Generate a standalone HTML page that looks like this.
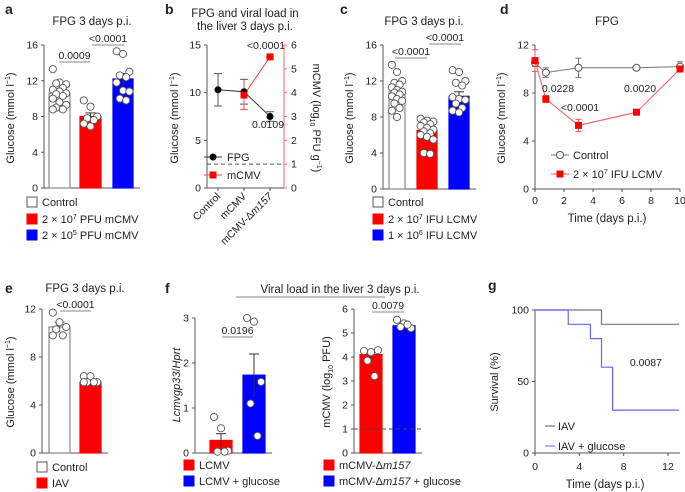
<!DOCTYPE html>
<html><head><meta charset="utf-8"><style>
body{margin:0;background:#fff}
svg{display:block;font-family:"Liberation Sans",sans-serif}
text{fill:#222}
</style></head><body>
<svg id="fig" width="685" height="492" viewBox="0 0 685 492"></svg>
<script>
// ---- data ----
const aCats=["Control","2e7 PFU mCMV","2e5 PFU mCMV"];
const aMeans=[10.6,8.0,12.2];
const aSem=[0.35,0.4,0.6];
const aPts=[[13.3,11.8,11.6,11.7,11.2,11.0,10.8,10.6,10.5,10.3,10.0,9.6,9.3,9.0,8.8,8.8],[9.8,9.1,8.0,7.8,7.6,7.2,6.9],[15.3,15.0,13.0,12.6,12.4,11.8,10.9,10.8,10.0,9.8]];
const cMeans=[10.8,6.5,10.3];
const cSem=[0.35,0.3,0.5];
const cPts=[[13.8,13.0,12.0,11.8,11.6,11.3,11.0,10.8,10.7,10.5,10.3,10.0,9.8,9.5,9.0,8.7,8.0],[7.8,7.6,7.5,7.4,7.2,7.0,6.8,6.6,6.4,6.2,6.0,5.8,5.5,4.0,3.9],[13.2,13.0,12.0,11.8,11.5,10.2,10.0,9.9,9.5,9.0,8.7,8.5]];
const bCats=["Control","mCMV","mCMV-Δm157"];
const bFpg=[10.3,10.1,7.5];
const bFpgErr=[1.7,1.3,0.5];
const bCmv=[null,3.9,5.5];
const bCmvErr=[null,0.6,0];
const dTimes=[0,0.75,3,7,10];
const dCtrl=[10.5,9.7,10.1,10.1,10.2];
const dCtrlErr=[0.3,0.4,0.8,0.1,0.4];
const dLcmv=[10.7,7.5,5.3,6.4,10.0];
const dLcmvErr=[0.9,0.3,0.5,0.1,0.2];
const eMeans=[10.5,5.9];
const eSem=[0.4,0.2];
const ePts=[[11.7,10.9,10.5,10.3,9.8,9.8],[6.4,6.4,5.9,5.9,5.9,5.9]];
const fLMeans=[0.28,1.73];
const fLSem=[0.15,0.47];
const fLPts=[[0.8,0.55,0.05,0.03,0.03],[3.0,2.92,1.58,1.1,0.38]];
const fRMeans=[4.1,5.3];
const fRSem=[0.15,0.08];
const fRPts=[[4.25,4.2,4.28,3.85,3.2],[5.55,5.4,5.2,5.25,5.35]];
const gTimes=[0,3,5,6,7,13];
const gIav=[100,100,100,90,90,90];
const gGlu=[100,90,80,60,30,30];

const NS="http://www.w3.org/2000/svg";const svg=document.getElementById('fig');
function el(tag,at,txt,parent){const e=document.createElementNS(NS,tag);for(const k in at)e.setAttribute(k,at[k]);if(txt!=null)e.textContent=txt;(parent||svg).appendChild(e);return e;}
function T(x,y,s,name,opt){opt=opt||{};const t=el('text',{x:x,y:y,'font-size':opt.fs||10,'text-anchor':opt.a||'start','font-weight':opt.b?'bold':'normal',fill:opt.c||'#222'},null);
t.innerHTML=s;


if(opt.rot)t.setAttribute('transform','rotate('+opt.rot+' '+x+' '+y+')');return t;}
function L(x1,y1,x2,y2,c,w,d){const l=el('line',{x1:x1,y1:y1,x2:x2,y2:y2,stroke:c||'#333','stroke-width':w||1,'stroke-dasharray':d||'none'});return l;}
function yAxis(x,y0,y1,max,ticks,name,fmt){
 const g=el('g',{});
 const sc=v=>y0-(y0-y1)*v/max;
 el('line',{x1:x,y1:y0,x2:x,y2:y1,stroke:'#555'},null,g);
 ticks.forEach(t=>{el('line',{x1:x-3,y1:sc(t),x2:x,y2:sc(t),stroke:'#555'},null,g);el('text',{x:x-6,y:sc(t)+3.5,'font-size':10.5,'text-anchor':'end'},fmt?fmt(t):t,g);});
 return sc;}
function barPanel(x0,y0,y1,max,ticks,bars,means,sem,pts,colors,name){
 const sc=yAxis(x0,y0,y1,max,ticks,name+'-y-axis');
 L(x0,y0,bars[bars.length-1][1]+7,y0,'#555');
 means.forEach((m,i)=>{const [bx0,bx1]=bars[i];
  const r=el('rect',{x:bx0,y:sc(m),width:bx1-bx0,height:y0-sc(m),fill:colors[i],stroke:colors[i]=='#fff'?'#888':colors[i],'stroke-width':1.2});
  
  
  const cx=(bx0+bx1)/2;
  const ec=colors[i]=='#fff'?'#555':'#333';
  L(cx,sc(m-sem[i]),cx,sc(m+sem[i]),ec);L(cx-5,sc(m+sem[i]),cx+5,sc(m+sem[i]),ec);
  const w=bx1-bx0;
  pts[i].forEach((v,j)=>{const off=((j*7)%5-2)/2.2*(w*0.35);
   const c=el('circle',{cx:cx+off,cy:sc(v),r:3.6,fill:'#fff',stroke:'#555','stroke-width':0.9});
   
   });
 });
 return sc;}
function sig(x1,x2,y,label,name){L(x1,y,x2,y,'#888');T((x1+x2)/2,y-3,label,name,{a:'middle',fs:10.5});}
function legendSq(x,y,fill,label,name){const r=el('rect',{x:x,y:y-9,width:10,height:10,fill:fill,stroke:fill=='#fff'?'#555':fill});
 
 
 T(x+15,y,label,name,{fs:11});}
const RED='#f00',BLUE='#00f';
const YT='Glucose (mmol l<tspan font-size="7" dy="-4">−1</tspan><tspan dy="4">)</tspan>';

// ---- panel a ----
T(5,14,'a','panel-a-label',{fs:14,b:true});
T(92,25,'FPG 3 days p.i.','panel-a-title',{a:'middle',fs:11.5});
barPanel(44,188,45,16,[0,4,8,12,16],[[49,70],[80,101],[113,133]],aMeans,aSem,aPts,['#fff',RED,BLUE],'panel-a');
sig(59,90,62,'0.0009','sig-a-1');sig(92,124,45,'&lt;0.0001','sig-a-2');
T(14,118,YT,'panel-a-y-title',{a:'middle',rot:-90,fs:11});
legendSq(27,206,'#fff','Control','legend-a-control');
legendSq(27,223,RED,'2 × 10<tspan font-size="7" dy="-4">7</tspan><tspan dy="4"> PFU mCMV</tspan>','legend-a-mcmv-high');
legendSq(27,239,BLUE,'2 × 10<tspan font-size="7" dy="-4">5</tspan><tspan dy="4"> PFU mCMV</tspan>','legend-a-mcmv-low');

// ---- panel b ----
T(165,14,'b','panel-b-label',{fs:14,b:true});
T(245,17,'FPG and viral load in','panel-b-title-1',{a:'middle',fs:11.5});
T(245,30,'the liver 3 days p.i.','panel-b-title-2',{a:'middle',fs:11.5});
const sbl=yAxis(207,188,45,15,[0,5,10,15],'panel-b-left-axis');
const gR=el('g',{});
const sbr=v=>188-143*v/6;
el('line',{x1:284,y1:188,x2:284,y2:45,stroke:'#f66'},null,gR);
[0,1,2,3,4,5,6].forEach(t=>{el('line',{x1:284,y1:sbr(t),x2:287,y2:sbr(t),stroke:'#f66'},null,gR);el('text',{x:291,y:sbr(t)+3.5,'font-size':10.5,fill:RED},t,gR);});
L(207,188,284,188,'#555');
const bx=i=>218+i*26;
bCats.forEach((c,i)=>{L(bx(i),188,bx(i),191,'#555');T(bx(i)+3,197,c.replace('Δm157','Δ<tspan font-style="italic">m157</tspan>'),'panel-b-xtick-'+i,{a:'end',rot:-45,fs:10.5});});
L(207,sbr(1),284,sbr(1),'#555',1,'4,3');
bFpg.forEach((v,i)=>{L(bx(i),sbl(v-bFpgErr[i]),bx(i),sbl(v+bFpgErr[i]),'#555');L(bx(i)-4,sbl(v-bFpgErr[i]),bx(i)+4,sbl(v-bFpgErr[i]),'#555');L(bx(i)-4,sbl(v+bFpgErr[i]),bx(i)+4,sbl(v+bFpgErr[i]),'#555');});
el('polyline',{points:bFpg.map((v,i)=>bx(i)+','+sbl(v)).join(' '),fill:'none',stroke:'#333'});
bCmv.forEach((v,i)=>{if(v==null)return;L(bx(i),sbr(v-bCmvErr[i]),bx(i),sbr(v+bCmvErr[i]),'#f44');L(bx(i)-4,sbr(v-bCmvErr[i]),bx(i)+4,sbr(v-bCmvErr[i]),'#f44');});
el('polyline',{points:bCmv.map((v,i)=>v==null?null:bx(i)+','+sbr(v)).filter(Boolean).join(' '),fill:'none',stroke:'#f44'});
bFpg.forEach((v,i)=>{const c=el('circle',{cx:bx(i),cy:sbl(v),r:3.5,fill:'#000'});});
bCmv.forEach((v,i)=>{if(v==null)return;const r=el('rect',{x:bx(i)-3.5,y:sbr(v)-3.5,width:7,height:7,fill:RED});});
T(268,128,'0.0109','panel-b-p-fpg',{a:'middle',fs:10.5});
T(266,49,'&lt;0.0001','panel-b-p-mcmv',{a:'middle',c:RED,fs:10.5});
T(313,118,'mCMV (log<tspan font-size="7" dy="3">10</tspan><tspan dy="-3"> PFU g</tspan><tspan font-size="7" dy="-4">−1</tspan><tspan dy="4">)</tspan>','panel-b-right-title',{a:'middle',rot:90,c:RED,fs:11});
T(178,118,YT,'panel-b-y-title',{a:'middle',rot:-90,fs:11});
L(204,157,222,157,'#333');el('circle',{cx:213,cy:157,r:3.5,fill:'#000'});T(227,161,'FPG','legend-b-fpg',{fs:11});
L(204,175,222,175,'#f44');el('rect',{x:209.5,y:171.5,width:7,height:7,fill:RED});T(227,179,'mCMV','legend-b-mcmv',{fs:11});

// ---- panel c ----
T(340,14,'c','panel-c-label',{fs:14,b:true});
T(424,25,'FPG 3 days p.i.','panel-c-title',{a:'middle',fs:11.5});
barPanel(383,189,45,16,[0,4,8,12,16],[[389,405],[417,437],[449,469]],cMeans,cSem,cPts,['#fff',RED,BLUE],'panel-c');
sig(395,427,58,'&lt;0.0001','sig-c-1');sig(429,461,44,'&lt;0.0001','sig-c-2');
T(353,118,YT,'panel-c-y-title',{a:'middle',rot:-90,fs:11});
legendSq(373,206,'#fff','Control','legend-c-control');
legendSq(373,223,RED,'2 × 10<tspan font-size="7" dy="-4">7</tspan><tspan dy="4"> IFU LCMV</tspan>','legend-c-lcmv-high');
legendSq(373,239,BLUE,'1 × 10<tspan font-size="7" dy="-4">6</tspan><tspan dy="4"> IFU LCMV</tspan>','legend-c-lcmv-low');

// ---- panel d ----
T(500,14,'d','panel-d-label',{fs:14,b:true});
T(607,25,'FPG','panel-d-title',{a:'middle',fs:11.5});
const sdy=yAxis(535,189,45,12,[0,4,8,12],'panel-d-y-axis');
const sdx=t=>535+145*t/10;
L(535,189,680,189,'#555');
[0,2,4,6,8,10].forEach(t=>{L(sdx(t),189,sdx(t),192,'#555');T(sdx(t),204,t,'panel-d-xtick',{a:'middle',fs:10.5});});
T(607,222,'Time (days p.i.)','panel-d-x-title',{a:'middle',fs:11.5});
T(505,118,YT,'panel-d-y-title',{a:'middle',rot:-90,fs:11});
function dSeries(vals,errs,lc,sq,name){
 vals.forEach((v,i)=>{const x=sdx(dTimes[i]);L(x,sdy(v-errs[i]),x,sdy(v+errs[i]),lc);L(x-3,sdy(v-errs[i]),x+3,sdy(v-errs[i]),lc);L(x-3,sdy(v+errs[i]),x+3,sdy(v+errs[i]),lc);});
 el('polyline',{points:vals.map((v,i)=>sdx(dTimes[i])+','+sdy(v)).join(' '),fill:'none',stroke:lc});
 vals.forEach((v,i)=>{const x=sdx(dTimes[i]);let m;
  if(sq)m=el('rect',{x:x-3.5,y:sdy(v)-3.5,width:7,height:7,fill:RED});else m=el('circle',{cx:x,cy:sdy(v),r:3.5,fill:'#fff',stroke:'#555'});
  
  });}
dSeries(dCtrl,dCtrlErr,'#777',false,'panel-d-control-point');
dSeries(dLcmv,dLcmvErr,'#f55',true,'panel-d-lcmv-point');
T(558,92,'0.0228','panel-d-p1',{a:'middle',fs:10.5});T(580,111,'&lt;0.0001','panel-d-p2',{a:'middle',fs:10.5});T(640,92,'0.0020','panel-d-p3',{a:'middle',fs:10.5});
L(551,155,569,155,'#777');el('circle',{cx:560,cy:155,r:3.5,fill:'#fff',stroke:'#555'});T(573,159,'Control','legend-d-control',{fs:11});
L(551,174,569,174,'#f55');el('rect',{x:556.5,y:170.5,width:7,height:7,fill:RED});T(573,178,'2 × 10<tspan font-size="7" dy="-4">7</tspan><tspan dy="4"> IFU LCMV</tspan>','legend-d-lcmv',{fs:11});

// ---- panel e ----
T(5,293,'e','panel-e-label',{fs:14,b:true});
T(85,292,'FPG 3 days p.i.','panel-e-title',{a:'middle',fs:11.5});
barPanel(42,453,309,12,[0,4,8,12],[[49,70],[80,101]],eMeans,eSem,ePts,['#fff',RED],'panel-e');
sig(60,91,311,'&lt;0.0001','sig-e');
T(14,382,YT,'panel-e-y-title',{a:'middle',rot:-90,fs:11});
legendSq(37,471,'#fff','Control','legend-e-control');
legendSq(37,487,RED,'IAV','legend-e-iav');

// ---- panel f ----
T(165,293,'f','panel-f-label',{fs:14,b:true});
T(340,293,'Viral load in the liver 3 days p.i.','panel-f-title',{a:'middle',fs:11.5});
L(236,297,385,297,'#888');
barPanel(195,453,318,3,[0,1,2,3],[[210,232],[243,265]],fLMeans,fLSem,fLPts,[RED,BLUE],'panel-f-lcmv');
sig(222,253,337,'0.0196','sig-f-1');
T(180,385,'<tspan font-style="italic">Lcmvgp33</tspan>/<tspan font-style="italic">Hprt</tspan>','panel-f-left-y-title',{a:'middle',rot:-90,fs:11});
const sfr=barPanel(354,453,309,6,[0,1,2,3,4,5,6],[[360,382],[393,415]],fRMeans,fRSem,fRPts,[RED,BLUE],'panel-f-mcmv');
L(354,sfr(1),424,sfr(1),'#444',1,'4,3');
sig(372,404,312,'0.0079','sig-f-2');
T(330,382,'mCMV (log<tspan font-size="7" dy="3">10</tspan><tspan dy="-3"> PFU)</tspan>','panel-f-right-y-title',{a:'middle',rot:-90,fs:11});
legendSq(184,469,RED,'LCMV','legend-f-lcmv');
legendSq(184,485,BLUE,'LCMV + glucose','legend-f-lcmv-glucose');
legendSq(324,469,RED,'mCMV-Δ<tspan font-style="italic">m157</tspan>','legend-f-mcmv');
legendSq(324,485,BLUE,'mCMV-Δ<tspan font-style="italic">m157</tspan> + glucose','legend-f-mcmv-glucose');

// ---- panel g ----
T(488,290,'g','panel-g-label',{fs:14,b:true});
const sgy=yAxis(535,453,310,100,[0,50,100],'panel-g-y-axis');
const sgx=t=>535+133*t/12;
L(535,453,680,453,'#555');
[0,4,8,12].forEach(t=>{L(sgx(t),453,sgx(t),456,'#555');T(sgx(t),470,t,'panel-g-xtick',{a:'middle',fs:10.5});});
T(605,488,'Time (days p.i.)','panel-g-x-title',{a:'middle',fs:11.5});
T(498,382,'Survival (%)','panel-g-y-title',{a:'middle',rot:-90,fs:11});
function step(ts,vs){let p=sgx(ts[0])+','+sgy(vs[0]);for(let i=1;i<ts.length;i++){p+=' '+sgx(ts[i])+','+sgy(vs[i-1])+' '+sgx(ts[i])+','+sgy(vs[i]);}return p;}
const p1=el('polyline',{points:step(gTimes,gIav),fill:'none',stroke:'#777','stroke-width':1.2});

const p2=el('polyline',{points:step(gTimes,gGlu),fill:'none',stroke:'#66f','stroke-width':1.2});

T(662,366,'0.0087','panel-g-p',{a:'end',fs:10.5});
L(545,426,555,426,'#555');T(558,430,'IAV','legend-g-iav',{fs:11});
L(545,446,555,446,'#66f');T(558,450,'IAV + glucose','legend-g-glucose',{fs:11});
</script>
</body></html>
